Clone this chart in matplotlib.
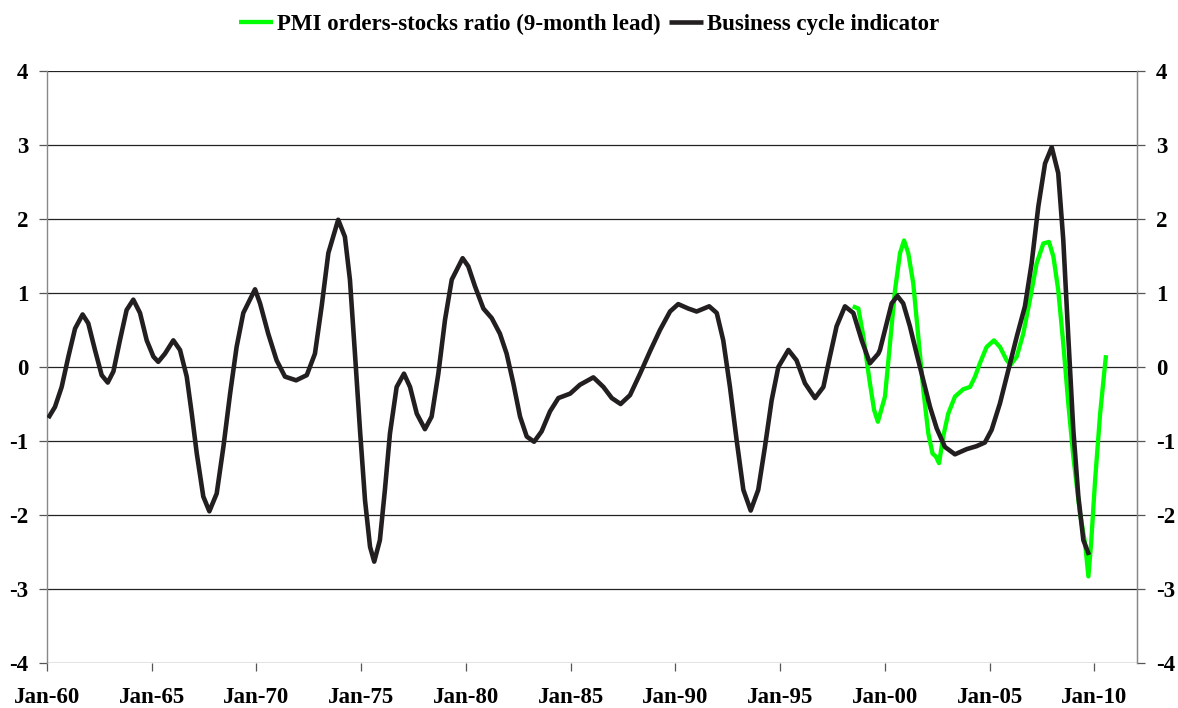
import matplotlib
matplotlib.use("Agg")
import matplotlib.pyplot as plt

# Business cycle indicator (decimal year, value)
bci_x = [1960.06, 1960.38, 1960.70, 1961.02, 1961.34, 1961.70, 1961.97, 1962.29, 1962.61,
         1962.90, 1963.17, 1963.48, 1963.80, 1964.12, 1964.44, 1964.76, 1965.08, 1965.31,
         1965.63, 1966.03, 1966.35, 1966.67, 1966.91, 1967.15, 1967.46, 1967.75, 1968.10,
         1968.42, 1968.74, 1969.05, 1969.37, 1969.93,
         1970.17, 1970.56, 1970.96, 1971.36, 1971.89, 1972.40, 1972.79, 1973.11, 1973.43,
         1973.90, 1974.22, 1974.46, 1974.70, 1974.94, 1975.18, 1975.42, 1975.62, 1975.89,
         1976.13, 1976.37, 1976.69, 1977.04, 1977.33, 1977.65, 1978.04, 1978.36, 1978.68,
         1979.00, 1979.32, 1979.84,
         1980.11, 1980.43, 1980.83, 1981.23, 1981.62, 1981.94, 1982.26, 1982.58, 1982.90,
         1983.25, 1983.61, 1984.01, 1984.41, 1984.97, 1985.44, 1986.08, 1986.56, 1986.96,
         1987.38, 1987.83, 1988.31, 1988.78, 1989.26, 1989.74, 1990.13,
         1990.61, 1991.01, 1991.61, 1991.97, 1992.28, 1992.60, 1992.92, 1993.24, 1993.59,
         1993.95, 1994.27, 1994.59, 1994.91, 1995.39, 1995.78, 1996.18, 1996.66, 1997.06,
         1997.37, 1997.69, 1998.09, 1998.49, 1998.89, 1999.28, 1999.68,
         1999.76, 2000.08, 2000.32, 2000.59, 2000.87, 2001.19, 2001.51, 2001.83, 2002.15,
         2002.47, 2002.86, 2003.34, 2003.90, 2004.37, 2004.77, 2005.09, 2005.49, 2005.89,
         2006.29, 2006.68, 2007.00, 2007.32, 2007.64, 2007.96, 2008.27, 2008.51, 2008.75,
         2008.99, 2009.23, 2009.47, 2009.74]
bci_y = [-0.69, -0.54, -0.27, 0.14, 0.52, 0.71, 0.59, 0.23, -0.11,
         -0.21, -0.06, 0.36, 0.77, 0.91, 0.73, 0.36, 0.14, 0.07,
         0.18, 0.36, 0.23, -0.13, -0.63, -1.17, -1.75, -1.95, -1.71,
         -1.08, -0.36, 0.27, 0.73, 1.05,
         0.86, 0.45, 0.09, -0.13, -0.18, -0.11, 0.18, 0.82, 1.54,
         1.99, 1.76, 1.18, 0.18, -0.85, -1.80, -2.43, -2.63, -2.34,
         -1.66, -0.90, -0.27, -0.09, -0.27, -0.63, -0.84, -0.67, -0.09,
         0.64, 1.18, 1.47,
         1.36, 1.09, 0.79, 0.66, 0.45, 0.18, -0.22, -0.67, -0.94,
         -1.01, -0.87, -0.60, -0.42, -0.36, -0.24, -0.14, -0.27, -0.42,
         -0.50, -0.38, -0.09, 0.21, 0.50, 0.75, 0.85,
         0.79, 0.75, 0.82, 0.73, 0.36, -0.27, -0.99, -1.66, -1.94,
         -1.66, -1.08, -0.45, 0.00, 0.23, 0.09, -0.22, -0.42, -0.27,
         0.14, 0.55, 0.82, 0.73, 0.36, 0.05, 0.18,
         0.23, 0.59, 0.86, 0.96, 0.86, 0.55, 0.18, -0.18, -0.54,
         -0.83, -1.08, -1.18, -1.11, -1.07, -1.02, -0.85, -0.49, -0.04,
         0.41, 0.82, 1.40, 2.17, 2.75, 2.97, 2.62, 1.72, 0.41,
         -0.85, -1.75, -2.34, -2.54]

# PMI orders-stocks ratio (9-month lead)
pmi_x = [1998.46, 1998.73, 1998.97, 1999.26, 1999.48, 1999.66,
         2000.00, 2000.24, 2000.48, 2000.72, 2000.91, 2001.11, 2001.35, 2001.59, 2001.83,
         2002.07, 2002.27, 2002.43, 2002.58, 2002.78, 2003.02, 2003.34, 2003.74, 2004.06,
         2004.30, 2004.53, 2004.85, 2005.20, 2005.49, 2005.81, 2006.00, 2006.29, 2006.60,
         2006.92, 2007.24, 2007.56, 2007.83, 2008.04, 2008.27, 2008.51, 2008.75, 2008.99,
         2009.31, 2009.55, 2009.71, 2009.84, 2010.03, 2010.27, 2010.55]
pmi_y = [0.82, 0.79, 0.41, -0.18, -0.58, -0.74,
         -0.40, 0.32, 1.04, 1.54, 1.71, 1.54, 1.13, 0.41, -0.31,
         -0.90, -1.17, -1.21, -1.30, -0.94, -0.63, -0.40, -0.30, -0.27,
         -0.13, 0.05, 0.27, 0.36, 0.27, 0.09, 0.03, 0.14, 0.45,
         0.91, 1.40, 1.67, 1.69, 1.49, 1.04, 0.32, -0.49, -1.21,
         -1.98, -2.38, -2.83, -2.38, -1.53, -0.63, 0.16]

xtick_pos = [1960, 1965, 1970, 1975, 1980, 1985, 1990, 1995, 2000, 2005, 2010]
xtick_labels = ["Jan-60", "Jan-65", "Jan-70", "Jan-75", "Jan-80", "Jan-85",
                "Jan-90", "Jan-95", "Jan-00", "Jan-05", "Jan-10"]
ytick_pos = [4, 3, 2, 1, 0, -1, -2, -3, -4]
ytick_labels = ["4", "3", "2", "1", "0", "-1", "-2", "-3", "-4"]

plt.rcParams['font.family'] = ['Liberation Serif', 'DejaVu Serif']
plt.rcParams['font.weight'] = 'bold'
FS = 16.5

fig = plt.figure(figsize=(11.78, 7.08), dpi=100)
ax = fig.add_axes([47/1178, 1-663/708, (1137-47)/1178, (663-71)/708])

ax.plot(pmi_x, pmi_y, color='#00FF00', lw=3.1, label='PMI orders-stocks ratio (9-month lead)',
        solid_joinstyle='round', solid_capstyle='butt', zorder=3)
ax.plot(bci_x, bci_y, color='#231F20', lw=3.3, label='Business cycle indicator',
        solid_joinstyle='round', solid_capstyle='butt', zorder=4)

ax.set_xlim(1960, 2012.03)
ax.set_ylim(-4, 4)
for v in ytick_pos:
    ax.axhline(v, color='#222222', lw=0.9, zorder=1)

ax.set_xticks(xtick_pos)
ax.set_xticklabels(xtick_labels, fontsize=FS, fontweight='bold')
ax.set_yticks(ytick_pos)
ax.set_yticklabels(ytick_labels, fontsize=FS, fontweight='bold')
ax.tick_params(axis='x', direction='out', length=5.5, width=0.9, color='#555555', pad=12)
ax.tick_params(axis='y', direction='out', length=5.5, width=0.9, color='#555555', pad=8)

for s in ['top', 'bottom']:
    ax.spines[s].set_visible(False)
ax.spines['left'].set_color('#888888')
ax.spines['left'].set_linewidth(1.0)
ax.spines['right'].set_color('#888888')
ax.spines['right'].set_linewidth(1.0)

ax2 = ax.twinx()
ax2.set_ylim(-4, 4)
ax2.set_yticks(ytick_pos)
ax2.set_yticklabels(ytick_labels, fontsize=FS, fontweight='bold')
ax2.tick_params(axis='y', direction='out', length=5.5, width=0.9, color='#555555', pad=8)
for s in ['top', 'bottom', 'left']:
    ax2.spines[s].set_visible(False)
ax2.spines['right'].set_color('#888888')

fig.legend(loc='center', bbox_to_anchor=(0.5, 1-24/708), ncol=2, frameon=False,
           handlelength=1.5, handletextpad=0.17, columnspacing=0.35,
           prop={'family': 'Liberation Serif', 'weight': 'bold', 'size': FS})

fig.savefig('out.png', dpi=100)
